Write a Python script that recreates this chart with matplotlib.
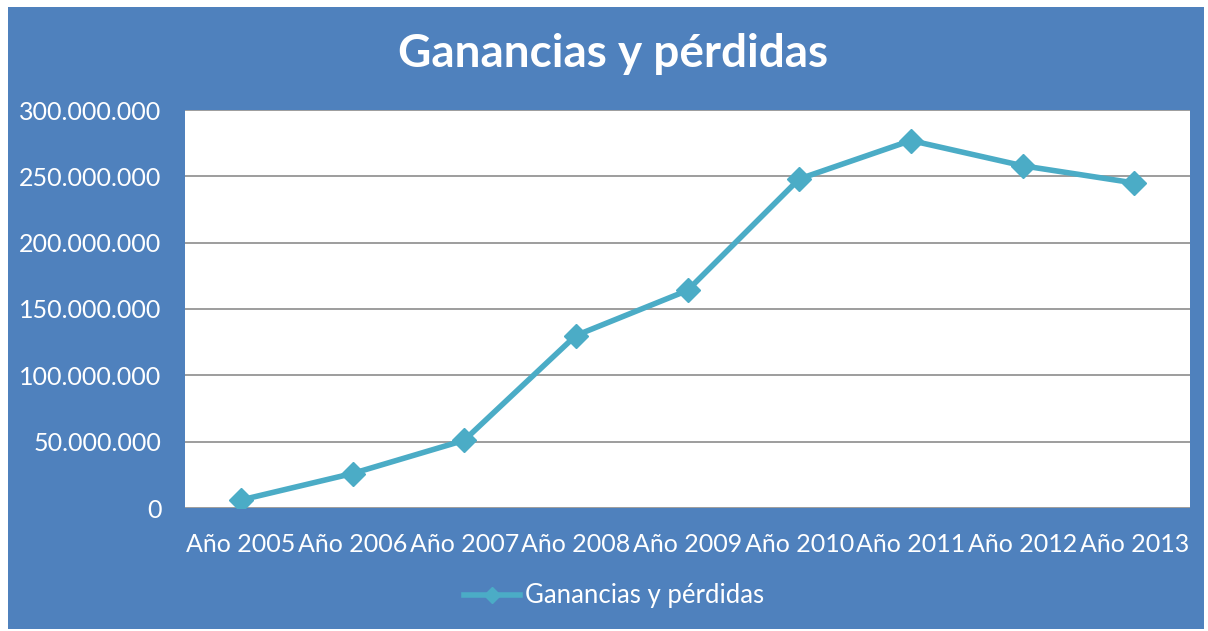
import numpy as np
import matplotlib.pyplot as plt
from matplotlib.ticker import FuncFormatter

categorias = ['Año 2005', 'Año 2006', 'Año 2007', 'Año 2008', 'Año 2009',
              'Año 2010', 'Año 2011', 'Año 2012', 'Año 2013']
valores = [6000000, 26000000, 51000000, 130000000, 164000000,
           248000000, 277000000, 258000000, 245000000]
yticks = [0, 50000000, 100000000, 150000000, 200000000, 250000000, 300000000]

plt.rcParams['font.family'] = ['Lato', 'DejaVu Sans']

fondo = '#4F81BD'
linea = '#4BACC6'

fig = plt.figure(figsize=(12.08, 6.31), dpi=100)
fig.patch.set_facecolor('white')
# marco azul del grafico
marco = plt.Rectangle((8 / 1208, 2 / 631), 1196 / 1208, 622 / 631,
                      transform=fig.transFigure, facecolor=fondo,
                      edgecolor='none', zorder=-10)
fig.add_artist(marco)

ax = fig.add_axes([185 / 1208, 1 - 508 / 631, 1005 / 1208, 398 / 631])
ax.set_facecolor('white')

x = np.arange(len(categorias))
ax.plot(x, valores, color=linea, lw=4, marker='D', markersize=12,
        label='Ganancias y pérdidas', zorder=3)

ax.set_xlim(-0.5, len(categorias) - 0.5)
ax.set_ylim(0, 300000000)
ax.set_yticks(yticks)
ax.yaxis.set_major_formatter(FuncFormatter(lambda v, p: '{:,.0f}'.format(v).replace(',', '.')))
ax.set_xticks(x)
ax.set_xticklabels(categorias)
ax.grid(axis='y', color='#8C8C8C', lw=1.2)
ax.set_axisbelow(True)
for s in ax.spines.values():
    s.set_visible(False)
ax.tick_params(axis='both', length=0, colors='white', labelsize=18)
ax.tick_params(axis='x', pad=18)
ax.tick_params(axis='y', pad=17)

fig.text(613 / 1208, 1 - 54 / 631, 'Ganancias y pérdidas', ha='center', va='center',
         color='white', fontsize=33, fontweight='bold')

leg = fig.legend(*ax.get_legend_handles_labels(), loc='center',
                 bbox_to_anchor=(614 / 1208, 1 - 596 / 631), frameon=False,
                 fontsize=18.5, handlelength=2.2, handletextpad=0.2, markerscale=0.7)
for t in leg.get_texts():
    t.set_color('white')

fig.savefig('out.png', dpi=100, facecolor=fig.get_facecolor())
